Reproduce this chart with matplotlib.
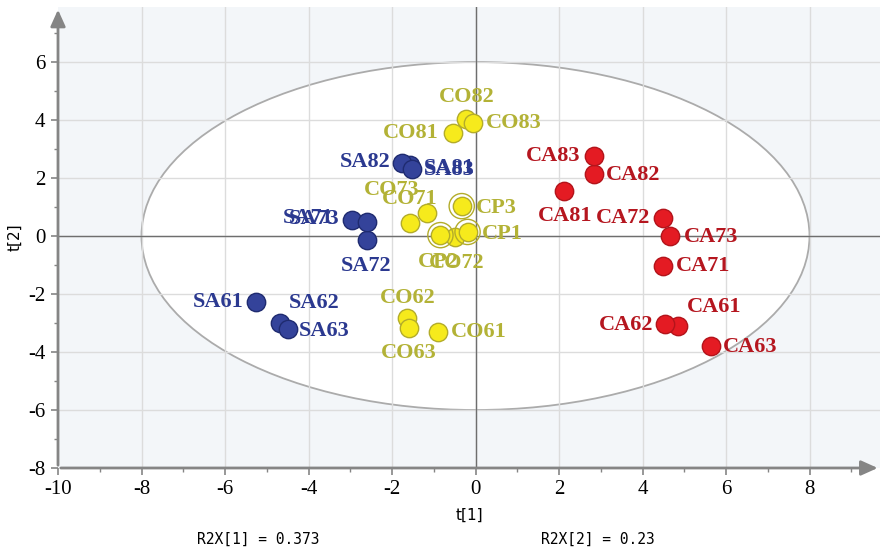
import matplotlib
matplotlib.use("Agg")
import matplotlib.pyplot as plt
from matplotlib.patches import Ellipse
import numpy as np

# Score values (t[1], t[2]) per sample group
sa_names = ["SA61", "SA62", "SA63", "SA71", "SA72", "SA73", "SA81", "SA82", "SA83"]
sa_t1 = [-5.25, -4.69, -4.50, -2.95, -2.61, -2.61, -1.58, -1.75, -1.53]
sa_t2 = [-2.28, -3.00, -3.21, 0.55, -0.14, 0.48, 2.45, 2.52, 2.31]

co_names = ["CO61", "CO62", "CO63", "CO71", "CO72", "CO73", "CO81", "CO82", "CO83"]
co_t1 = [-0.89, -1.63, -1.60, -1.15, -0.50, -1.58, -0.55, -0.22, -0.07]
co_t2 = [-3.31, -2.83, -3.17, 0.79, -0.03, 0.45, 3.55, 4.03, 3.90]

cp_names = ["CP1", "CP2", "CP3"]
cp_t1 = [-0.19, -0.84, -0.33]
cp_t2 = [0.14, 0.03, 1.03]

ca_names = ["CA61", "CA62", "CA63", "CA71", "CA72", "CA73", "CA81", "CA82", "CA83"]
ca_t1 = [4.86, 4.55, 5.63, 4.50, 4.48, 4.67, 2.11, 2.83, 2.83]
ca_t2 = [-3.10, -3.03, -3.79, -1.03, 0.62, 0.00, 1.55, 2.14, 2.76]

x_ticks = [-10, -8, -6, -4, -2, 0, 2, 4, 6, 8]
y_ticks = [-8, -6, -4, -2, 0, 2, 4, 6]
r2x = [0.373, 0.23]

# Label placement: (dx px, dy px, ha, va)
R, L = "right", "left"
place = {
    "SA61": (-13, 0, R, "center"), "SA62": (9, 10, L, "bottom"), "SA63": (11, -2, L, "center"),
    "SA71": (-19, 2, R, "center"), "SA72": (0, -16, "center", "top"), "SA73": (-27, 3, R, "center"),
    "SA81": (14, -3, L, "center"), "SA82": (-12, 1, R, "center"), "SA83": (12, -1, L, "center"),
    "CO61": (13, 0, L, "center"), "CO62": (0, 10, "center", "bottom"), "CO63": (0, -15, "center", "top"),
    "CO71": (-18, 14, "center", "center"), "CO72": (2, -16, "center", "top"),
    "CO73": (-18, 33, "center", "center"),
    "CO81": (-14, 0, R, "center"), "CO82": (0, 12, "center", "bottom"), "CO83": (13, 0, L, "center"),
    "CP1": (14, -2, L, "center"), "CP2": (-2, -17, "center", "top"), "CP3": (14, -2, L, "center"),
    "CA61": (8, 9, L, "bottom"), "CA62": (-12, -1, R, "center"), "CA63": (12, -1, L, "center"),
    "CA71": (12, 0, L, "center"), "CA72": (-12, 0, R, "center"), "CA73": (13, -1, L, "center"),
    "CA81": (2, -15, "center", "top"), "CA82": (12, -1, L, "center"), "CA83": (-13, 0, R, "center"),
}

W, H, DPI = 886, 549, 100
fig = plt.figure(figsize=(W / DPI, H / DPI), dpi=DPI)
fig.patch.set_facecolor("white")

xlim = (-10, 9.7)
ylim = (-8, 7.9)
left_px, bottom_px = 58, 468
px_x = 41.75
px_y = 29.0
ax_w = (xlim[1] - xlim[0]) * px_x
ax_h = (ylim[1] - ylim[0]) * px_y
ax = fig.add_axes([left_px / W, (H - bottom_px) / H, ax_w / W, ax_h / H])
ax.set_xlim(*xlim)
ax.set_ylim(*ylim)
ax.set_facecolor("#f3f6f9")

# Hotelling ellipse
ax.add_patch(Ellipse((0, 0), 16, 12, facecolor="white", edgecolor="#ababab",
                     linewidth=1.3, zorder=1))

for v in x_ticks[1:]:
    ax.axvline(v, color="#dcdcdc", linewidth=1.0, zorder=1.5)
for v in y_ticks[1:]:
    ax.axhline(v, color="#dcdcdc", linewidth=1.0, zorder=1.5)
ax.axvline(0, color="#6e6e6e", linewidth=1.0, zorder=2)
ax.axhline(0, color="#6e6e6e", linewidth=1.0, zorder=2)

for s in ["top", "right", "left", "bottom"]:
    ax.spines[s].set_visible(False)

# Axis lines with arrow heads
axis_col = "#858585"
ax.annotate("", xy=(1.0, 0), xytext=(0, 0), xycoords="axes fraction",
            arrowprops=dict(arrowstyle="-|>,head_length=1.0,head_width=0.45",
                            color=axis_col, lw=2), annotation_clip=False, zorder=5)
ax.annotate("", xy=(0, 1.0), xytext=(0, 0), xycoords="axes fraction",
            arrowprops=dict(arrowstyle="-|>,head_length=1.0,head_width=0.45",
                            color=axis_col, lw=2), annotation_clip=False, zorder=5)

ax.set_xticks(x_ticks)
ax.set_yticks(y_ticks)
ax.set_xticks(np.arange(-9, 10, 2), minor=True)
ax.set_yticks(np.arange(-7, 8, 2), minor=True)
ax.tick_params(which="major", direction="out", length=5, width=1.2, color=axis_col,
               labelsize=15, pad=4)
ax.tick_params(which="minor", direction="out", length=3, width=1.0, color=axis_col)
ax.set_xticklabels([str(t) for t in x_ticks], family="Liberation Serif")
ax.set_yticklabels([str(t) for t in y_ticks], family="Liberation Serif")

ax.set_xlabel("t[1]", fontsize=11, family="DejaVu Sans", labelpad=6)
ax.set_ylabel("t[2]", fontsize=11, family="DejaVu Sans", labelpad=4)

fig.text(258 / W, 1 - 539 / H, f"R2X[1] = {r2x[0]}", ha="center", va="center",
         fontsize=10.5, family="DejaVu Sans Mono")
fig.text(598 / W, 1 - 539 / H, f"R2X[2] = {r2x[1]}", ha="center", va="center",
         fontsize=10.5, family="DejaVu Sans Mono")

msize = 175
groups = [
    (sa_names, sa_t1, sa_t2, "#34439a", "#1f2b70", "#2b3990"),
    (co_names, co_t1, co_t2, "#f6ea1c", "#b3ac2a", "#b3b236"),
    (cp_names, cp_t1, cp_t2, "#f6ea1c", "#b3ac2a", "#b3b236"),
    (ca_names, ca_t1, ca_t2, "#e41b23", "#b3141b", "#b5161f"),
]
for names, xs, ys, fc, ec, tc in groups:
    ax.scatter(xs, ys, s=msize, facecolor=fc, edgecolor=ec, linewidth=1.0, zorder=6)
    for n, xv, yv in zip(names, xs, ys):
        dx, dy, ha, va = place[n]
        ax.annotate(n, (xv, yv), xytext=(dx * 0.72, dy * 0.72), textcoords="offset points",
                    ha=ha, va=va, fontsize=16, fontweight="bold", color=tc,
                    family="Liberation Serif", zorder=8)

# Outer rings for the pooled QC samples
ax.scatter(cp_t1, cp_t2, s=330, facecolor="none", edgecolor="#b3ac2a", linewidth=1.0, zorder=6)

fig.savefig("out.png", dpi=DPI)
